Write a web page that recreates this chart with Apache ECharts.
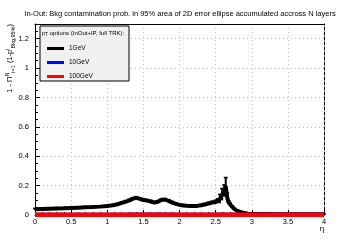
<!DOCTYPE html>
<html>
<head>
<meta charset="utf-8">
<title>In-Out Bkg contamination</title>
<script src="https://cdn.jsdelivr.net/npm/echarts@6/dist/echarts.min.js"></script>
<style>
  html, body { margin: 0; padding: 0; background: #fff; }
  #main { width: 360px; height: 240px; }
</style>
</head>
<body>
<div id="main"></div>
<script>
// eta positions and values
var etaBlack = [0, 0.1, 0.2, 0.3, 0.4, 0.5, 0.6, 0.7, 0.8, 0.9, 1.0, 1.05, 1.1, 1.15, 1.2, 1.25, 1.3, 1.35, 1.4, 1.45,
  1.5, 1.55, 1.6, 1.65, 1.7, 1.75, 1.8, 1.85, 1.9, 1.95, 2.0, 2.05, 2.1, 2.15, 2.2, 2.25, 2.3, 2.35, 2.4, 2.45,
  2.5, 2.53, 2.56, 2.59, 2.62, 2.64, 2.66, 2.68, 2.7, 2.73, 2.76, 2.8, 2.85, 2.9, 2.95, 3.0, 3.2, 3.4, 3.6, 3.8, 4.0];
var valBlack = [0.039, 0.041, 0.043, 0.045, 0.046, 0.048, 0.050, 0.052, 0.054, 0.057, 0.061, 0.064, 0.068, 0.074, 0.082, 0.090, 0.098, 0.110, 0.117, 0.110,
  0.102, 0.098, 0.092, 0.084, 0.090, 0.103, 0.104, 0.096, 0.084, 0.076, 0.069, 0.065, 0.063, 0.062, 0.061, 0.062, 0.066, 0.071, 0.078, 0.084,
  0.089, 0.095, 0.110, 0.140, 0.165, 0.195, 0.120, 0.085, 0.072, 0.055, 0.040, 0.028, 0.020, 0.013, 0.009, 0.007, 0.006, 0.005, 0.005, 0.005, 0.005];
var errBlack = [0.006, 0.006, 0.006, 0.006, 0.006, 0.006, 0.006, 0.006, 0.006, 0.006, 0.006, 0.006, 0.006, 0.007, 0.007, 0.008, 0.008, 0.008, 0.008, 0.008,
  0.008, 0.008, 0.008, 0.008, 0.008, 0.008, 0.008, 0.008, 0.008, 0.007, 0.007, 0.007, 0.007, 0.007, 0.007, 0.007, 0.007, 0.008, 0.008, 0.010,
  0.012, 0.015, 0.030, 0.040, 0.040, 0.060, 0.030, 0.012, 0.010, 0.008, 0.006, 0.005, 0.004, 0.003, 0.002, 0.002, 0.002, 0.002, 0.002, 0.002, 0.002];

var etaFlat = [0, 0.2, 0.4, 0.6, 0.8, 1.0, 1.2, 1.4, 1.6, 1.8, 2.0, 2.2, 2.4, 2.6, 2.8, 3.0, 3.2, 3.4, 3.6, 3.8, 4.0];
var valBlue = [0.002, 0.002, 0.002, 0.002, 0.002, 0.002, 0.002, 0.003, 0.003, 0.003, 0.002, 0.002, 0.002, 0.003, 0.002, 0.001, 0.001, 0.001, 0.001, 0.001, 0.001];
var valRed = [0.001, 0.001, 0.001, 0.001, 0.001, 0.001, 0.001, 0.001, 0.001, 0.001, 0.001, 0.001, 0.001, 0.001, 0.001, 0.001, 0.001, 0.001, 0.001, 0.001, 0.001];

var seriesNames = ['1GeV', '10GeV', '100GeV'];
var seriesColors = ['#000000', '#0000ff', '#ff0000'];

function pairs(xs, ys) {
  var out = [];
  for (var i = 0; i < xs.length; i++) out.push([xs[i], ys[i]]);
  return out;
}
var errData = [];
for (var i = 0; i < etaBlack.length; i++) errData.push([etaBlack[i], valBlack[i], errBlack[i]]);

var font = 'Liberation Sans, Arial, sans-serif';
var gridLine = { show: true, lineStyle: { color: '#c0c0c0', type: [1, 3], width: 1 } };

var chart = echarts.init(document.getElementById('main'), null, { renderer: 'canvas' });
var option = {
  animation: false,
  backgroundColor: '#fff',
  textStyle: { fontFamily: font },
  title: {
    text: 'In-Out: Bkg contamination prob. in 95% area of 2D error ellipse accumulated accross N layers',
    left: 'center',
    top: 5,
    textStyle: { fontSize: 7.5, fontWeight: 'normal', color: '#000', fontFamily: font }
  },
  grid: { left: 35, right: 36, top: 24, bottom: 25 },
  legend: {
    data: seriesNames,
    orient: 'vertical',
    left: 42,
    top: 40,
    itemGap: 7,
    itemWidth: 17,
    itemHeight: 3,
    icon: 'rect',
    z: 6,
    textStyle: { fontSize: 6.5, color: '#000', fontFamily: font, padding: [0, 0, 0, 0] }
  },
  xAxis: [{
    type: 'value', min: 0, max: 4, interval: 0.5, position: 'bottom',
    axisLine: { show: true, lineStyle: { color: '#000', width: 1 } },
    axisTick: { inside: true, length: 5, lineStyle: { color: '#000' } },
    minorTick: { show: true, splitNumber: 5, length: 3, lineStyle: { color: '#000' } },
    splitLine: gridLine,
    axisLabel: { fontSize: 7.5, color: '#000', margin: 3, fontFamily: font }
  }, {
    type: 'value', min: 0, max: 4, position: 'top',
    axisLine: { show: true, onZero: false, lineStyle: { color: '#000', width: 1 } },
    axisTick: { show: false }, axisLabel: { show: false }, splitLine: { show: false }
  }],
  yAxis: [{
    type: 'value', min: 0, max: 1.3, interval: 0.2, position: 'left',
    axisLine: { show: true, lineStyle: { color: '#000', width: 1 } },
    axisTick: { inside: true, length: 5, lineStyle: { color: '#000' } },
    minorTick: { show: true, splitNumber: 4, length: 3, lineStyle: { color: '#000' } },
    splitLine: gridLine,
    axisLabel: { fontSize: 7.5, color: '#000', margin: 6, showMaxLabel: false, fontFamily: font }
  }, {
    type: 'value', min: 0, max: 1.3, position: 'right',
    axisLine: { show: true, onZero: false, lineStyle: { color: '#000', width: 1, type: [3, 2] } },
    axisTick: { show: false }, axisLabel: { show: false }, splitLine: { show: false }
  }],
  graphic: [{
    type: 'rect', z: 3,
    shape: { x: 40, y: 26, width: 89, height: 55 },
    style: { fill: '#f0f0f0', stroke: '#000', lineWidth: 1 }
  }, {
    type: 'text', z: 7, x: 42, y: 33,
    style: {
      text: '{n|p}{s|T}{n| options (InOut+IP, full TRK):}',
      verticalAlign: 'middle',
      rich: {
        n: { fontSize: 6, fontFamily: font, fill: '#000', lineHeight: 9 },
        s: { fontSize: 4.5, fontFamily: font, fill: '#000', verticalAlign: 'bottom', lineHeight: 9, padding: [3, 0, 0, 0] }
      }
    }
  }, {
    type: 'text', z: 7, x: 10, y: 24, rotation: Math.PI / 2,
    style: {
      text: '{n|1 - Π}{u|N}{s|i=1}{n| (1-p}{u|i}{s|Bkg,95%}{n|)}',
      align: 'right',
      verticalAlign: 'middle',
      rich: {
        n: { fontSize: 7.5, fontFamily: font, fill: '#000', lineHeight: 12 },
        s: { fontSize: 5.5, fontFamily: font, fill: '#000', verticalAlign: 'bottom', lineHeight: 12, padding: [4, 0, 0, 0] },
        u: { fontSize: 5.5, fontFamily: font, fill: '#000', verticalAlign: 'top', lineHeight: 12, padding: [0, 0, 4, 0] }
      }
    }
  }, {
    type: 'text', z: 7, x: 322, y: 229,
    style: { text: 'η', fontSize: 8, fontFamily: font, fill: '#000', align: 'center', verticalAlign: 'middle' }
  }],
  series: [{
    name: seriesNames[0], type: 'line', data: pairs(etaBlack, valBlack),
    color: seriesColors[0], showSymbol: false, z: 3,
    lineStyle: { width: 4, color: seriesColors[0] }
  }, {
    name: seriesNames[0] + ' err', type: 'custom', data: errData, z: 3,
    renderItem: function (params, api) {
      var x = api.value(0), y = api.value(1), e = api.value(2);
      var lo = api.coord([x, y - e]);
      var hi = api.coord([x, y + e]);
      return {
        type: 'group',
        children: [
          { type: 'line', shape: { x1: lo[0], y1: lo[1], x2: hi[0], y2: hi[1] }, style: { stroke: '#000', lineWidth: 2 } },
          { type: 'line', shape: { x1: hi[0] - 2, y1: hi[1], x2: hi[0] + 2, y2: hi[1] }, style: { stroke: '#000', lineWidth: 1.5 } }
        ]
      };
    }
  }, {
    name: seriesNames[1], type: 'line', data: pairs(etaFlat, valBlue),
    color: seriesColors[1], showSymbol: false, z: 3,
    lineStyle: { width: 4, color: seriesColors[1] }
  }, {
    name: seriesNames[2], type: 'line', data: pairs(etaFlat, valRed),
    color: seriesColors[2], showSymbol: false, z: 4,
    lineStyle: { width: 4.5, color: seriesColors[2] }
  }]
};
chart.setOption(option);
</script>
</body>
</html>
